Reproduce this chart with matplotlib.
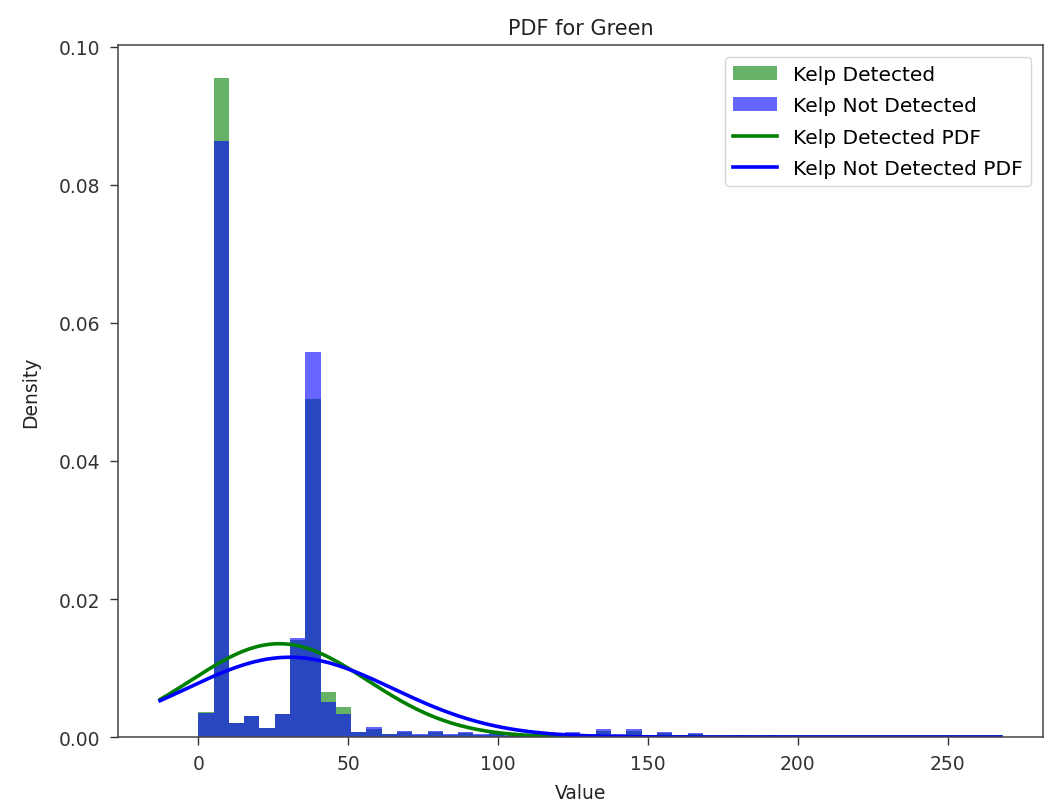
import numpy as np
import matplotlib
matplotlib.use("Agg")
from matplotlib import pyplot as plt

# bin edges shared by both histograms (50 bins over 0..255)
bin_edges = np.linspace(0, 255, 51)

# density per bin, kelp detected
detected_density = [
    0.0036, 0.0955, 0.0020, 0.0031, 0.0013, 0.0033, 0.0140, 0.0490, 0.0066, 0.0043,
    0.0008, 0.0012, 0.0004, 0.0007, 0.0003, 0.0007, 0.0003, 0.0006, 0.0003, 0.0005,
    0.0002, 0.0003, 0.0002, 0.0004, 0.0006, 0.0003, 0.0009, 0.0003, 0.0009, 0.0002,
    0.0006, 0.0002, 0.0005, 0.0001, 0.0001, 0.0002, 0.0001, 0.0002, 0.0001, 0.0001,
    0.0001, 0.0001, 0.0001, 0.0001, 0.0001, 0.0001, 0.0001, 0.0001, 0.0001, 0.0001,
]

# density per bin, kelp not detected
not_detected_density = [
    0.0035, 0.0863, 0.0020, 0.0031, 0.0013, 0.0033, 0.0144, 0.0558, 0.0051, 0.0034,
    0.0008, 0.0014, 0.0005, 0.0009, 0.0004, 0.0009, 0.0004, 0.0008, 0.0004, 0.0006,
    0.0003, 0.0004, 0.0003, 0.0005, 0.0008, 0.0004, 0.0011, 0.0004, 0.0011, 0.0003,
    0.0008, 0.0003, 0.0006, 0.0002, 0.0002, 0.0003, 0.0002, 0.0003, 0.0002, 0.0001,
    0.0002, 0.0001, 0.0002, 0.0001, 0.0002, 0.0001, 0.0002, 0.0001, 0.0002, 0.0001,
]

# fitted normal parameters (mean, std)
detected_fit = (27.0, 29.5)
not_detected_fit = (30.5, 34.5)


def normal_pdf(x, mu, sigma):
    return np.exp(-0.5 * ((x - mu) / sigma) ** 2) / (sigma * np.sqrt(2 * np.pi))


plt.rcParams['font.family'] = ['DejaVu Sans']
plt.rcParams['font.size'] = 13

fig = plt.figure(figsize=(10.45, 8.04), dpi=100)
ax = fig.add_axes([0.113, 0.082, 0.885, 0.861])

centers = (bin_edges[:-1] + bin_edges[1:]) / 2
ax.hist(centers, bins=bin_edges, weights=detected_density, color='g', alpha=0.6,
        label='Kelp Detected')
ax.hist(centers, bins=bin_edges, weights=not_detected_density, color='b', alpha=0.6,
        label='Kelp Not Detected')

xmin, xmax = ax.get_xlim()
x = np.linspace(xmin, xmax, 200)
ax.plot(x, normal_pdf(x, *detected_fit), color='g', linewidth=2.6, label='Kelp Detected PDF')
ax.plot(x, normal_pdf(x, *not_detected_fit), color='b', linewidth=2.6,
        label='Kelp Not Detected PDF')

ax.set_title('PDF for Green', fontsize=15, pad=8, color='#222222')
ax.set_xlabel('Value', fontsize=13.5, labelpad=7, color='#222222')
ax.set_ylabel('Density', fontsize=13.5, labelpad=14, color='#222222')
ax.set_yticks([0.0, 0.02, 0.04, 0.06, 0.08, 0.10])
ax.tick_params(length=5.5, width=1.0, pad=7, labelsize=13.5, colors='#333333')
for s in ax.spines.values():
    s.set_linewidth(1.1)
    s.set_color('#444444')
ax.legend(loc='upper right', fontsize=14.5, handlelength=2.2, borderaxespad=0.6,
          labelspacing=0.62)

fig.savefig('out.png', dpi=100)
